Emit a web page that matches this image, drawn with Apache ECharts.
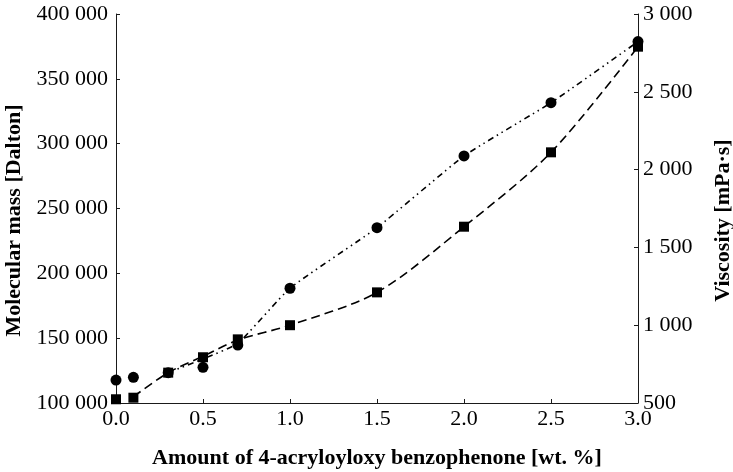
<!DOCTYPE html>
<html>
<head>
<meta charset="utf-8">
<script src="https://cdn.jsdelivr.net/npm/echarts@6/dist/echarts.min.js"></script>
<style>
  html, body { margin: 0; padding: 0; background: #ffffff; }
  #chart { width: 733px; height: 472px; }
</style>
</head>
<body>
<div id="chart"></div>
<script>
// amount of 4-acryloyloxy benzophenone [wt. %]
const amounts = [0.0, 0.1, 0.3, 0.5, 0.7, 1.0, 1.5, 2.0, 2.5, 3.0];
// molecular mass [Dalton], circles, left axis
const molecularMass = [117700, 119800, 123400, 127500, 144700, 188500, 235200, 290500, 331600, 378700];
// viscosity [mPa·s], squares, right axis
const viscosity = [524, 534, 695, 794, 909, 1000, 1211, 1633, 2111, 2790];

// trend lines (they start after the first points)
const massTrendX = [0.3, 0.5, 0.7, 1.0, 1.5, 2.0, 2.5, 3.0];
const massTrend = [123400, 134000, 146000, 188500, 235200, 290500, 331600, 378700];
const viscTrendX = [0.1, 0.3, 0.5, 0.7, 1.0, 1.5, 2.0, 2.5, 3.0];
const viscTrend = [540, 695, 800, 905, 1000, 1211, 1633, 2111, 2790];

const xTicks = ["0.0", "0.5", "1.0", "1.5", "2.0", "2.5", "3.0"];
const massTicks = ["100 000", "150 000", "200 000", "250 000", "300 000", "350 000", "400 000"];
const viscTicks = ["500", "1 000", "1 500", "2 000", "2 500", "3 000"];

const serif = "Liberation Serif";
const ink = "#000000";

const pairs = (xs, ys) => xs.map((x, i) => [x, ys[i]]);

const chart = echarts.init(document.getElementById("chart"), null, { renderer: "canvas" });

function axisBase() {
  return {
    axisLine: { show: true, lineStyle: { color: "#1a1a1a", width: 1 } },
    axisTick: { show: true, inside: true, length: 4, lineStyle: { color: "#1a1a1a" } },
    splitLine: { show: false },
    nameTextStyle: { fontFamily: serif, fontWeight: "bold", fontSize: 22, color: ink }
  };
}

chart.setOption({
  animation: false,
  backgroundColor: "#ffffff",
  grid: {
    left: 116, right: 95, top: 14, bottom: 69,
    containLabel: false,
    outerBoundsMode: "none"
  },
  xAxis: {
    ...axisBase(),
    type: "value",
    min: 0,
    max: 3,
    interval: 0.5,
    name: "Amount of 4-acryloyloxy benzophenone [wt. %]",
    nameLocation: "middle",
    nameGap: 44,
    axisLabel: {
      fontFamily: serif, fontSize: 22, color: ink, margin: 5,
      formatter: (v) => xTicks[Math.round(v / 0.5)]
    }
  },
  yAxis: [
    {
      ...axisBase(),
      type: "value",
      position: "left",
      min: 100000,
      max: 400000,
      interval: 50000,
      name: "Molecular mass [Dalton]",
      nameLocation: "middle",
      nameRotate: 90,
      nameGap: 89,
      nameTextStyle: {
        fontFamily: serif, fontWeight: "bold", fontSize: 22, color: ink,
        padding: [0, 24, 0, 0]
      },
      axisLabel: {
        fontFamily: serif, fontSize: 22, color: ink, margin: 8,
        formatter: (v) => massTicks[Math.round((v - 100000) / 50000)]
      }
    },
    {
      ...axisBase(),
      type: "value",
      position: "right",
      min: 500,
      max: 3000,
      interval: 500,
      name: "Viscosity [mPa·s]",
      nameLocation: "middle",
      nameRotate: 90,
      nameGap: 74,
      nameTextStyle: {
        fontFamily: serif, fontWeight: "bold", fontSize: 22, color: ink,
        padding: [0, 24, 0, 0]
      },
      axisLabel: {
        fontFamily: serif, fontSize: 22, color: ink, margin: 5,
        formatter: (v) => viscTicks[Math.round((v - 500) / 500)]
      }
    }
  ],
  series: [
    {
      name: "Molecular mass trend",
      type: "line",
      yAxisIndex: 0,
      smooth: 0.15,
      showSymbol: false,
      lineStyle: { color: "#000000", width: 1.6, type: [6, 4, 1.5, 4, 1.5, 4] },
      data: pairs(massTrendX, massTrend)
    },
    {
      name: "Viscosity trend",
      type: "line",
      yAxisIndex: 1,
      smooth: 0.3,
      showSymbol: false,
      lineStyle: { color: "#000000", width: 1.6, type: [9, 5] },
      data: pairs(viscTrendX, viscTrend)
    },
    {
      name: "Molecular mass",
      type: "scatter",
      yAxisIndex: 0,
      symbol: "circle",
      symbolSize: 11,
      itemStyle: { color: "#000000", opacity: 1 },
      data: pairs(amounts, molecularMass)
    },
    {
      name: "Viscosity",
      type: "scatter",
      yAxisIndex: 1,
      symbol: "rect",
      symbolSize: 10,
      itemStyle: { color: "#000000", opacity: 1 },
      data: pairs(amounts, viscosity)
    }
  ]
});
</script>
</body>
</html>
